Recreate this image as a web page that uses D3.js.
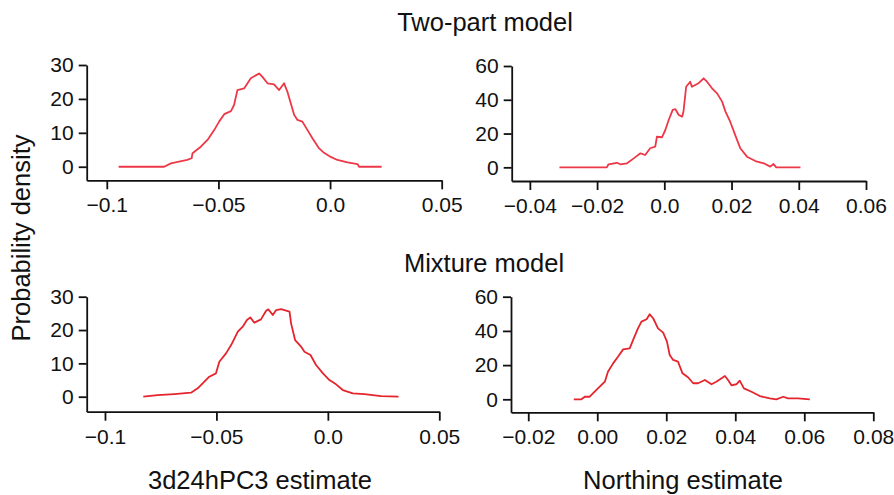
<!DOCTYPE html>
<html>
<head>
<meta charset="utf-8">
<script src="https://cdn.jsdelivr.net/npm/d3@7"></script>
<style>
  html, body { margin: 0; padding: 0; background: #fff; }
  svg { display: block; font-family: "Liberation Sans", Arial, Helvetica, sans-serif; }
</style>
</head>
<body>
<svg id="chart" width="894" height="495"></svg>
<script>
// ---- Data ----
// Top-left: Two-part model, 3d24hPC3 estimate
const tpPcX = [-0.0947,-0.0743,-0.0713,-0.064,-0.062,-0.0616,-0.0579,-0.0549,-0.0519,-0.0497,-0.0474,-0.0444,-0.043,-0.0415,-0.0385,-0.0355,-0.0318,-0.0303,-0.028,-0.0251,-0.0228,-0.0206,-0.0191,-0.0176,-0.0161,-0.0146,-0.0124,-0.0101,-0.0079,-0.0049,-0.0027,0.0003,0.0033,0.0078,0.0123,0.013,0.0231];
const tpPcY = [0,0,1,2,2.5,4,5.9,7.9,10.8,13.3,15.5,16.4,18.2,22.6,23.1,26.1,27.5,26.5,24.6,24.3,22.6,24.6,22.1,18.7,15.3,13.8,13.3,10.8,8.4,5.4,4.1,2.9,2.0,1.3,0.8,0,0];
// Top-right: Two-part model, Northing estimate
const tpNX = [-0.0312,-0.0171,-0.0166,-0.0141,-0.0131,-0.0111,-0.0091,-0.0071,-0.0057,-0.0042,-0.0027,-0.0022,-0.0007,0.0003,0.0013,0.0025,0.0033,0.0043,0.0053,0.0057,0.0065,0.0077,0.0082,0.0102,0.0117,0.0127,0.0142,0.0157,0.0172,0.0182,0.0196,0.0211,0.0226,0.0246,0.0271,0.0296,0.0315,0.0325,0.0333,0.0405];
const tpNY = [0,0,1.8,2.7,1.8,2.4,5.3,8.3,7.3,11.3,12.2,18.1,17.8,22.1,28,34,34.4,31,30,33,47.7,50.7,47.7,49.8,52.7,50.7,46.8,43.8,38.9,33,27,19.1,11.3,6.3,3.7,2.4,0.4,2,0,0];
// Bottom-left: Mixture model, 3d24hPC3 estimate
const mxPcX = [-0.0828,-0.0764,-0.0689,-0.0614,-0.0584,-0.0554,-0.0532,-0.0502,-0.0487,-0.0457,-0.0434,-0.0404,-0.0382,-0.0363,-0.0348,-0.033,-0.03,-0.0277,-0.0267,-0.0247,-0.0232,-0.021,-0.0172,-0.0165,-0.0147,-0.012,-0.0105,-0.0078,-0.0053,-0.0022,0.0007,0.0037,0.0067,0.0112,0.0164,0.0239,0.0317];
const mxPcY = [0,0.5,0.8,1.2,2.5,4.5,6,7,10.5,13,15.5,19.5,21,23,23.8,22.2,23.2,25.8,26.2,24.5,26,26.3,25.5,22,17,15,13.5,12.5,9.5,7,5,3.7,2,1,0.8,0.2,0];
// Bottom-right: Mixture model, Northing estimate
const mxNX = [-0.0068,-0.0046,-0.0036,-0.0022,0.0002,0.0022,0.0031,0.0046,0.006,0.0075,0.0094,0.0104,0.0118,0.0128,0.0143,0.0152,0.0162,0.0176,0.0191,0.0202,0.021,0.022,0.0234,0.0247,0.0263,0.0278,0.0292,0.0312,0.0331,0.0345,0.037,0.0379,0.0389,0.0403,0.0413,0.0425,0.0447,0.0471,0.05,0.0519,0.0539,0.0553,0.0582,0.0616];
const mxNY = [0,0,1.5,1.5,6.4,10.3,16.1,21,24.9,29.2,29.8,34.7,41.5,45.4,46.8,49.7,47.4,41.5,39,33.7,25.9,23,22,15.2,12.9,9.4,9.4,11.3,8.8,10.3,13.6,11.3,8.2,8.8,10.9,6.4,4.4,1.9,0.6,0,1.5,0.6,0.6,0];

// Tick labels
const pcTicks = [-0.1, -0.05, 0.0, 0.05];
const pcTickLabels = ["\u22120.1", "\u22120.05", "0.0", "0.05"];
const tpNTicks = [-0.04, -0.02, 0.0, 0.02, 0.04, 0.06];
const tpNTickLabels = ["\u22120.04", "\u22120.02", "0.0", "0.02", "0.04", "0.06"];
const mxNTicks = [-0.02, 0.0, 0.02, 0.04, 0.06, 0.08];
const mxNTickLabels = ["\u22120.02", "0.00", "0.02", "0.04", "0.06", "0.08"];
const y30Ticks = [0, 10, 20, 30];
const y60Ticks = [0, 20, 40, 60];

const rowTitles = ["Two-part model", "Mixture model"];
const xTitles = ["3d24hPC3 estimate", "Northing estimate"];
const yTitle = "Probability density";

// ---- Layout ----
const svg = d3.select("#chart");
const FONT = 21;
const TITLE_FONT = 25.5;

const panels = [
  { xs: tpPcX, ys: tpPcY, xd: [-0.109, 0.05], yd: [-4, 30], xr: [86.7, 441.7], yr: [180.3, 65],
    xt: pcTicks, xl: pcTickLabels, yt: y30Ticks, color: "#ec3847" },
  { xs: tpNX, ys: tpNY, xd: [-0.0454, 0.06], yd: [-8.1, 60], xr: [511.7, 866], yr: [181, 66],
    xt: tpNTicks, xl: tpNTickLabels, yt: y60Ticks, color: "#ec3847" },
  { xs: mxPcX, ys: mxPcY, xd: [-0.1082, 0.05], yd: [-4.5, 30], xr: [86.7, 439.3], yr: [411.7, 296.7],
    xt: pcTicks, xl: pcTickLabels, yt: y30Ticks, color: "#e5252d" },
  { xs: mxNX, ys: mxNY, xd: [-0.025, 0.08], yd: [-7.6, 60], xr: [511, 873.3], yr: [412.3, 296.7],
    xt: mxNTicks, xl: mxNTickLabels, yt: y60Ticks, color: "#e5252d" }
];

panels.forEach(p => {
  const x = d3.scaleLinear().domain(p.xd).range(p.xr);
  const y = d3.scaleLinear().domain(p.yd).range(p.yr);
  const g = svg.append("g");

  const xAxis = d3.axisBottom(x).tickValues(p.xt)
    .tickFormat((d, i) => p.xl[i]).tickSize(9).tickSizeOuter(0).tickPadding(8);
  const gx = g.append("g").attr("transform", `translate(0,${p.yr[0]})`).call(xAxis);

  const yAxis = d3.axisLeft(y).tickValues(p.yt)
    .tickSize(8).tickSizeOuter(0).tickPadding(5);
  const gy = g.append("g").attr("transform", `translate(${p.xr[0]},0)`).call(yAxis);

  [gx, gy].forEach(a => {
    a.selectAll("path.domain").attr("stroke", "#111").attr("stroke-width", 1.8);
    a.selectAll(".tick line").attr("stroke", "#111").attr("stroke-width", 1.8);
    a.selectAll(".tick text").attr("fill", "#111").style("font-size", FONT + "px")
      .style("font-family", "'Liberation Sans', Arial, sans-serif");
  });

  const data = p.xs.map((v, i) => [v, p.ys[i]]);
  const line = d3.line().x(d => x(d[0])).y(d => y(d[1])).curve(d3.curveLinear);
  g.append("path").datum(data)
    .attr("d", line)
    .attr("fill", "none")
    .attr("stroke", p.color)
    .attr("stroke-width", 1.8)
    .attr("stroke-linejoin", "round");
});

// Titles
const tstyle = s => s.attr("fill", "#111").style("font-size", TITLE_FONT + "px")
  .style("font-family", "'Liberation Sans', Arial, sans-serif");

svg.append("text").attr("x", 485).attr("y", 31).attr("text-anchor", "middle").text(rowTitles[0]).call(tstyle);
svg.append("text").attr("x", 484).attr("y", 272).attr("text-anchor", "middle").text(rowTitles[1]).call(tstyle);
svg.append("text").attr("x", 260).attr("y", 489).attr("text-anchor", "middle").text(xTitles[0]).call(tstyle);
svg.append("text").attr("x", 683).attr("y", 489).attr("text-anchor", "middle").text(xTitles[1]).call(tstyle);
svg.append("text").attr("transform", "translate(30,238) rotate(-90)").attr("text-anchor", "middle").text(yTitle).call(tstyle);
</script>
</body>
</html>
